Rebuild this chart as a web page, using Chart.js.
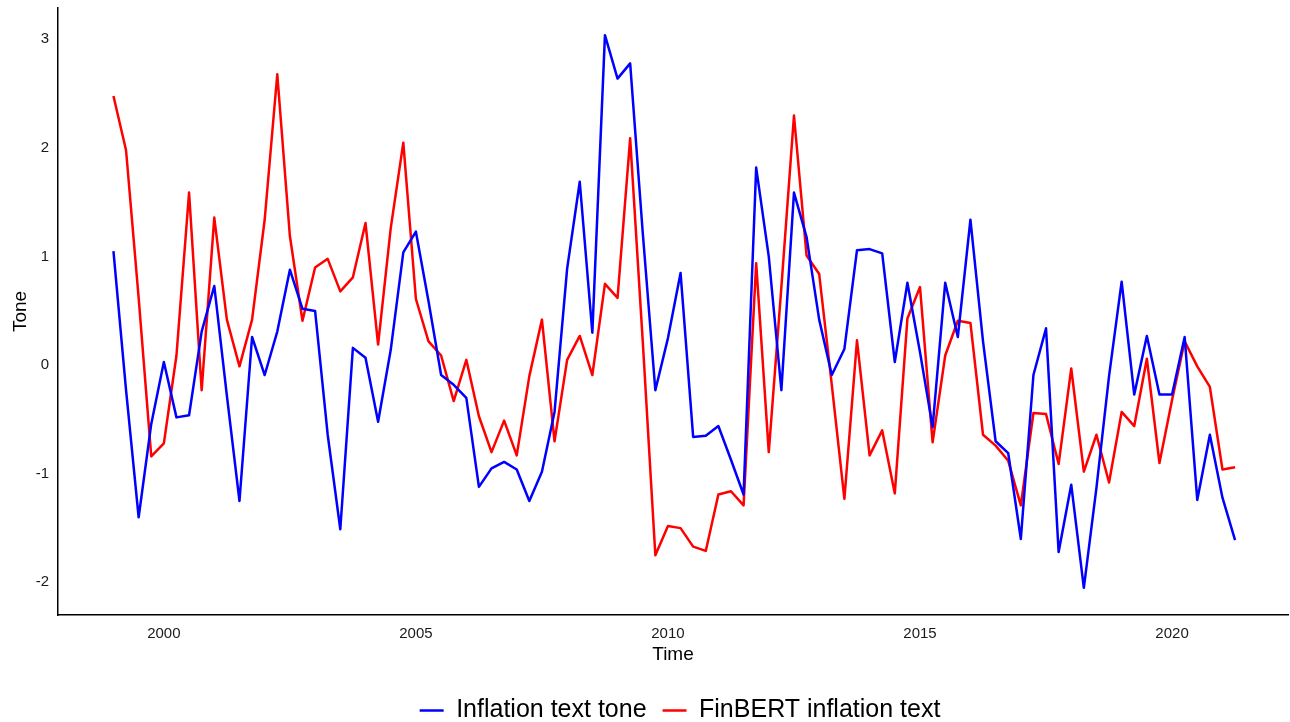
<!DOCTYPE html>
<html>
<head>
<meta charset="utf-8">
<title>Inflation tone</title>
<script src="https://cdn.jsdelivr.net/npm/chart.js@4.4.1/dist/chart.umd.min.js"></script>
<style>
    html, body { margin: 0; padding: 0; background: #fff; }
    #toneChart { display: block; }
</style>
</head>
<body>
<canvas id="toneChart" width="1290" height="722"></canvas>
<script>
// Quarterly series, first value is 1999 Q1
var startYear = 1999;

var textTone = [
    1.03, -0.25, -1.42, -0.56, 0.01, -0.50, -0.48, 0.29, 0.71, -0.30,
    -1.27, 0.24, -0.11, 0.29, 0.86, 0.50, 0.48, -0.66, -1.53, 0.14,
    0.05, -0.54, 0.12, 1.02, 1.21, 0.57, -0.11, -0.20, -0.32, -1.14,
    -0.97, -0.91, -0.98, -1.27, -1.00, -0.45, 0.87, 1.67, 0.28, 3.02,
    2.62, 2.76, 1.20, -0.25, 0.23, 0.83, -0.68, -0.67, -0.58, -0.89,
    -1.21, 1.80, 0.98, -0.25, 1.57, 1.16, 0.40, -0.11, 0.13, 1.04,
    1.05, 1.01, 0.01, 0.74, 0.10, -0.59, 0.74, 0.24, 1.32, 0.20,
    -0.72, -0.83, -1.62, -0.11, 0.32, -1.74, -1.12, -2.07, -1.15, -0.12,
    0.75, -0.29, 0.25, -0.29, -0.29, 0.24, -1.26, -0.66, -1.24, -1.63
];

var finbertTone = [
    2.46, 1.96, 0.60, -0.86, -0.74, 0.07, 1.57, -0.25, 1.34, 0.40,
    -0.03, 0.40, 1.32, 2.66, 1.17, 0.39, 0.88, 0.96, 0.66, 0.79,
    1.29, 0.17, 1.24, 2.03, 0.59, 0.20, 0.07, -0.35, 0.03, -0.49,
    -0.82, -0.53, -0.85, -0.12, 0.40, -0.72, 0.03, 0.25, -0.11, 0.73,
    0.60, 2.07, 0.20, -1.77, -1.50, -1.52, -1.69, -1.73, -1.21, -1.18,
    -1.31, 0.92, -0.82, 0.70, 2.28, 0.99, 0.82, -0.20, -1.25, 0.21,
    -0.85, -0.62, -1.20, 0.41, 0.70, -0.73, 0.07, 0.39, 0.37, -0.66,
    -0.76, -0.90, -1.31, -0.46, -0.47, -0.93, -0.05, -1.00, -0.66, -1.10,
    -0.45, -0.58, 0.04, -0.92, -0.34, 0.20, -0.03, -0.22, -0.98, -0.96
];

var xTickYears = [2000, 2005, 2010, 2015, 2020];
var yTickValues = [-2, -1, 0, 1, 2, 3];

function toPoints(values) {
    return values.map((v, i) => ({ x: startYear + i / 4, y: v }));
}

var fontFamily = "'Liberation Sans', Arial, sans-serif";

// nudge the bottom legend a little to the right, like the original
var legendShift = {
    id: 'legendShift',
    afterLayout: (chart) => {
        chart.legend.left += 7;
        chart.legend.right += 7;
    }
};

var ctx = document.getElementById('toneChart').getContext('2d');

var toneChart = new Chart(ctx, {
    type: 'line',
    data: {
        datasets: [{
            label: 'Inflation text tone',
            data: toPoints(textTone),
            borderColor: '#0000ff',
            backgroundColor: '#0000ff',
            borderWidth: 2.5,
            borderJoinStyle: 'round',
            pointRadius: 0,
            tension: 0
        }, {
            label: 'FinBERT inflation text',
            data: toPoints(finbertTone),
            borderColor: '#ff0000',
            backgroundColor: '#ff0000',
            borderWidth: 2.5,
            borderJoinStyle: 'round',
            pointRadius: 0,
            tension: 0
        }]
    },
    options: {
        responsive: false,
        animation: false,
        devicePixelRatio: 1,
        layout: {
            padding: { top: 8, right: 2, left: 0, bottom: 0 }
        },
        scales: {
            x: {
                type: 'linear',
                min: 1997.9,
                max: 2022.3,
                grid: { display: false, drawTicks: false },
                border: { display: true, color: '#000', width: 1.5 },
                afterBuildTicks: (scale) => {
                    scale.ticks = xTickYears.map(v => ({ value: v }));
                },
                afterFit: (scale) => {
                    scale.height = 67;
                    scale.paddingLeft = 0;
                    scale.paddingRight = 0;
                },
                ticks: {
                    padding: 10,
                    maxRotation: 0,
                    color: '#1a1a1a',
                    font: { family: fontFamily, size: 15 },
                    callback: (value) => String(value)
                },
                title: {
                    display: true,
                    text: 'Time',
                    color: '#000',
                    font: { family: fontFamily, size: 19 },
                    padding: { top: 0, bottom: 16 }
                }
            },
            y: {
                min: -2.32,
                max: 3.27,
                grid: { display: false, drawTicks: false },
                border: { display: true, color: '#000', width: 1.5 },
                afterBuildTicks: (scale) => {
                    scale.ticks = yTickValues.map(v => ({ value: v }));
                },
                afterFit: (scale) => {
                    scale.width = 58;
                    scale.paddingTop = 0;
                    scale.paddingBottom = 0;
                },
                ticks: {
                    padding: 9,
                    labelOffset: 2,
                    color: '#1a1a1a',
                    font: { family: fontFamily, size: 15 },
                    callback: (value) => String(value)
                },
                title: {
                    display: true,
                    text: 'Tone',
                    color: '#000',
                    font: { family: fontFamily, size: 19 },
                    padding: { top: 9, bottom: 0 }
                }
            }
        },
        plugins: {
            legend: {
                position: 'bottom',
                fullSize: false,
                maxHeight: 40,
                labels: {
                    usePointStyle: true,
                    pointStyle: 'line',
                    pointStyleWidth: 24,
                    padding: 16,
                    color: '#000',
                    font: { family: fontFamily, size: 25 }
                }
            },
            tooltip: { enabled: false }
        }
    },
    plugins: [legendShift]
});
</script>
</body>
</html>
